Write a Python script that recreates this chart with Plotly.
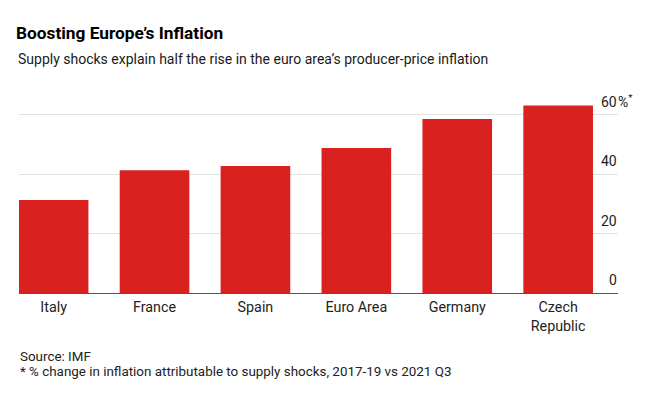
import plotly.graph_objects as go

categories = ["Italy", "France", "Spain", "Euro Area", "Germany", "Czech<br>Republic"]
values = [31.3, 41.3, 42.8, 48.8, 58.6, 63.1]
tick_values = [0, 20, 40, 60]
tick_labels = ["0", "20", "40", "60"]

W, H = 657, 393
ML, MR, MT, MB = 19, 39, 97, 100
PW, PH = W - ML - MR, H - MT - MB

def px_x(px):
    return (px - ML) / PW

def px_y(py):
    return (H - MB - py) / PH

FONT = "Roboto, Liberation Sans, Arial, sans-serif"
RED = "#d9221f"

fig = go.Figure()
fig.add_trace(go.Bar(
    x=list(range(len(categories))), y=values, width=0.69,
    marker=dict(color=RED, line=dict(width=0)),
    hoverinfo="skip",
))

annotations = []
for v, lab in zip(tick_values, tick_labels):
    annotations.append(dict(x=1, xref="paper", y=v, yref="y", text=lab,
                            xanchor="right", yanchor="middle", xshift=1, yshift=13,
                            showarrow=False, font=dict(family=FONT, size=14, color="#222")))
annotations.append(dict(x=1, xref="paper", y=tick_values[-1], yref="y", text="%<sup>*</sup>",
                        xanchor="left", yanchor="middle", xshift=-2, yshift=14,
                        showarrow=False, font=dict(family=FONT, size=14, color="#222")))
annotations.append(dict(x=px_x(16), xref="paper", y=px_y(59), yref="paper",
                        text="Supply shocks explain half the rise in the euro area’s producer-price inflation",
                        xanchor="left", yanchor="middle", showarrow=False,
                        font=dict(family=FONT, size=14, color="#1a1a1a")))
annotations.append(dict(x=px_x(18), xref="paper", y=px_y(356), yref="paper",
                        text="Source: IMF", xanchor="left", yanchor="middle", showarrow=False,
                        font=dict(family=FONT, size=13.4, color="#222")))
annotations.append(dict(x=px_x(18), xref="paper", y=px_y(371), yref="paper",
                        text="* % change in inflation attributable to supply shocks, 2017-19 vs 2021 Q3",
                        xanchor="left", yanchor="middle", showarrow=False,
                        font=dict(family=FONT, size=13.4, color="#222")))

fig.update_layout(
    width=W, height=H,
    margin=dict(l=ML, r=MR, t=MT, b=MB, pad=0),
    paper_bgcolor="white", plot_bgcolor="white",
    showlegend=False,
    title=dict(text="<b>Boosting Europe’s Inflation</b>", x=16 / W, xanchor="left",
               y=1 - 33 / H, yanchor="middle", xref="container", yref="container",
               font=dict(family=FONT, size=17.3, color="#000")),
    xaxis=dict(range=[-0.343, 5.593], tickmode="array",
               tickvals=list(range(len(categories))), ticktext=categories,
               showgrid=False, zeroline=False, showline=False, ticks="",
               ticklabelstandoff=4,
               tickfont=dict(family=FONT, size=14.3, color="#222")),
    yaxis=dict(range=[0, 66], tickvals=tick_values, showticklabels=False,
               showgrid=True, gridcolor="#e3e3e3", gridwidth=1,
               zeroline=True, zerolinecolor="#555", zerolinewidth=1, showline=False),
    annotations=annotations,
    bargap=0.31,
)

fig.write_html("out.html", config={"displayModeBar": False},
               post_script="document.body.style.margin='0';document.body.style.padding='0';")
